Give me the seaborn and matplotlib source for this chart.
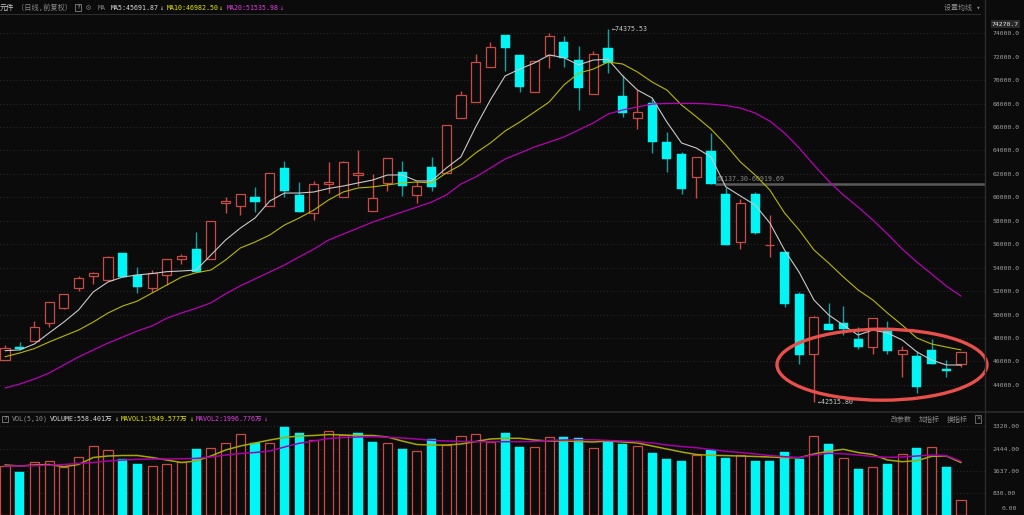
import numpy as np
import pandas as pd
import matplotlib
matplotlib.use("Agg")
import matplotlib.pyplot as plt
import seaborn as sns
from matplotlib.patches import Ellipse
from matplotlib.lines import Line2D

# ---- 日K数据 ----
open_ = [46130, 47260, 47770, 49250, 50590, 52290, 53320, 52920, 55230, 53380,
         52290, 53380, 54740, 55590, 54740, 59490, 59260, 60060, 59260, 62480,
         60200, 58690, 61170, 60060, 61880, 58840, 61250, 62190, 60180, 62620,
         62050, 66800, 68160, 71150, 73860, 72150, 68970, 72150, 73280, 71720,
         68800, 72770, 68650, 66750, 68030, 64700, 63700, 61710, 63960, 60260,
         56220, 60260, 55900, 55360, 51750, 46630, 49200, 49310, 47890, 47260,
         48600, 46610, 46460, 46980, 45360, 45760]
close = [47130, 47040, 48910, 51050, 51730, 53090, 53520, 54890, 53230, 52330,
         53520, 54740, 55030, 53660, 57980, 59710, 60260, 59630, 62050, 60540,
         58780, 61120, 61310, 62990, 62050, 59920, 63390, 60970, 61000, 60860,
         66200, 68740, 71530, 72860, 72770, 69440, 71640, 73800, 71920, 69360,
         72230, 71490, 67220, 67310, 64700, 63250, 60710, 63420, 61140, 55940,
         59490, 57000, 55940, 50930, 46550, 49820, 48680, 48740, 47260, 49730,
         46920, 46980, 43840, 45760, 45210, 46780]
high = [47400, 47640, 49450, 51050, 51730, 53290, 53630, 54970, 55230, 54040,
        53800, 54740, 55140, 57060, 57980, 60060, 60260, 60860, 62050, 63100,
        61340, 61400, 62990, 63100, 64040, 61990, 63390, 63100, 61400, 63420,
        66200, 69100, 72260, 73230, 73860, 72150, 71640, 74000, 73770, 72940,
        72490, 74375.53, 70440, 69160, 68450, 65550, 63900, 63420, 65470, 60860,
        59840, 60460, 58490, 55360, 51950, 49880, 50960, 50760, 48970, 49730,
        49460, 47340, 46920, 47890, 46120, 46780]
low = [46100, 46980, 47770, 48910, 50480, 52040, 52610, 52920, 53230, 51870,
       51950, 52520, 54320, 53660, 54740, 58640, 58500, 58730, 59260, 60010,
       58780, 58070, 60400, 60060, 61000, 58840, 60570, 60120, 59550, 60570,
       62050, 66800, 68160, 71150, 70780, 68970, 68970, 71060, 71150, 67460,
       68800, 70590, 66830, 65810, 63760, 62190, 60290, 59920, 61140, 55940,
       55570, 56850, 54940, 50620, 45780, 42515.80, 48680, 48250, 47040, 46630,
       46630, 44700, 43330, 45760, 44700, 45500]

# 均线
ma5 = [46920, 46980, 47490, 48430, 49360, 50390, 51930, 52780, 53200, 53380,
       53500, 53660, 53720, 53800, 55080, 56360, 57380, 58240, 59690, 60370,
       60370, 60460, 60760, 60970, 61230, 61480, 61910, 61910, 61400, 61400,
       62500, 63450, 66010, 68310, 70360, 70950, 71470, 72150, 71920, 71300,
       71720, 71780, 70360, 69160, 68480, 66430, 64640, 64210, 63450, 60910,
       60120, 59350, 57820, 55510, 53600, 51240, 49970, 49100, 48250, 48680,
       48430, 47830, 46810, 46120, 45700, 45690]
ma10 = [46400, 46720, 47100, 47660, 48170, 48680, 49360, 50130, 50730, 51150,
        51840, 52520, 53200, 53570, 53800, 54660, 55680, 56190, 56790, 57640,
        58240, 58920, 59780, 60460, 60800, 60890, 61060, 61230, 61310, 61230,
        62080, 62770, 63790, 64640, 65660, 66430, 67280, 68140, 69590, 70600,
        70950, 71550, 71380, 70700, 69840, 69160, 67880, 66880, 65830, 64500,
        63020, 61910, 60630, 58670, 57210, 55510, 54400, 53210, 52100, 51250,
        50130, 49100, 48000, 47490, 47230, 46980]
ma20 = [43730, 44070, 44500, 45010, 45700, 46380, 46980, 47570, 48080, 48600,
        49030, 49690, 50140, 50540, 51000, 51770, 52450, 53040, 53630, 54230,
        54910, 55590, 56360, 56870, 57380, 57890, 58320, 58750, 59170, 59600,
        60200, 61140, 61740, 62500, 63270, 63780, 64300, 64720, 65150, 65750,
        66350, 67110, 67460, 67710, 67960, 68020, 68020, 68020, 67960, 67840,
        67620, 67200, 66510, 65490, 64210, 62760, 61390, 60200, 59170, 58070,
        56870, 55590, 54480, 53460, 52430, 51580]

# 成交量（万）
volume = [1823, 1611, 1960, 2020, 1775, 2169, 2555, 2406, 2071, 1897,
          1811, 1886, 1983, 2455, 2480, 2667, 3025, 2690, 2667, 3285,
          3050, 2778, 3136, 2976, 3039, 2727, 2667, 2455, 2369, 2815,
          2592, 2927, 3002, 2704, 3039, 2542, 2518, 2902, 2890, 2853,
          2481, 2765, 2629, 2555, 2318, 2071, 2021, 2232, 2406, 2108,
          2232, 2021, 1997, 2332, 2071, 2951, 2629, 2132, 1700, 1775,
          1897, 2257, 2481, 2542, 1775, 558.401]
mavol1 = [1860, 1822, 1860, 1878, 1796, 1878, 2138, 2194, 2213, 2213,
          2138, 2045, 1952, 2008, 2194, 2417, 2566, 2678, 2789, 2883,
          2938, 2957, 2994, 2975, 2957, 2957, 2901, 2752, 2622, 2603,
          2603, 2640, 2733, 2826, 2852, 2852, 2789, 2752, 2752, 2733,
          2715, 2752, 2715, 2678, 2566, 2454, 2343, 2250, 2220, 2209,
          2194, 2176, 2157, 2131, 2131, 2269, 2373, 2443, 2324, 2250,
          2045, 1982, 2019, 2183, 2194, 1950]
mavol2 = [1822, 1822, 1834, 1852, 1878, 1915, 1952, 2008, 2045, 2071,
          2079, 2083, 2094, 2105, 2157, 2231, 2287, 2324, 2380, 2529,
          2667, 2752, 2845, 2883, 2901, 2912, 2890, 2864, 2826, 2778,
          2752, 2733, 2726, 2726, 2726, 2726, 2733, 2771, 2789, 2797,
          2797, 2771, 2752, 2726, 2678, 2603, 2548, 2503, 2436, 2369,
          2324, 2269, 2213, 2168, 2138, 2231, 2295, 2276, 2231, 2176,
          2146, 2157, 2194, 2231, 2205, 1997]

price_ticks = list(range(44000, 74001, 2000))
vol_ticks = [830, 1637, 2444, 3320]
level_price = 61100
level_label = "61137.30-60919.69"

df = pd.DataFrame({"open": open_, "close": close, "high": high, "low": low,
                   "vol": volume, "ma5": ma5, "ma10": ma10, "ma20": ma20,
                   "mavol1": mavol1, "mavol2": mavol2})
df["i"] = np.arange(len(df))

# ---- 样式 ----
BG = "#0b0b0b"
RED = "#c84b45"
CYAN = "#00f5f5"
CYAN_WICK = "#12a0a0"
GRID = "#3a3a3a"
W, H = 1024, 515

sns.set_theme(style="dark", rc={"figure.facecolor": BG, "axes.facecolor": BG})
plt.rcParams["font.family"] = ["DejaVu Sans Mono", "DejaVu Sans", "Noto Sans CJK SC"]


def fx(px):
    return px / W


def fy(py):
    return 1 - py / H


fig = plt.figure(figsize=(W / 100, H / 100), dpi=100)

# 像素 -> 数据 换算
bar_px = 14.708
x_lo, x_hi = -5 / bar_px, 980 / bar_px
p_per_px = 85.33
p_top = 74000 + (33.3 - 15) * p_per_px
p_bot = 74000 - (412 - 33.3) * p_per_px
v_per_px = 37.19

ax = fig.add_axes([0, fy(412), fx(985), (412 - 15) / H])
axv = fig.add_axes([0, 0, fx(985), (515 - 412) / H])

TICK_FS = 4.6
for a in (ax, axv):
    a.set_facecolor(BG)
    for s in a.spines.values():
        s.set_visible(False)
    a.set_xlim(x_lo, x_hi)
    a.set_xticks([])
    a.yaxis.tick_right()
    a.tick_params(axis="y", length=0, pad=5.5, labelsize=TICK_FS, labelcolor="#a0a0a0")
    a.grid(axis="y", color=GRID, linestyle=(0, (1, 3)), linewidth=0.6)
    a.grid(axis="x", visible=False)

# ---- K线 ----
up = df[df["close"] >= df["open"]]
dn = df[df["close"] < df["open"]]
bw = 0.62

ax.vlines(dn["i"], dn["low"], dn["high"], color=CYAN_WICK, lw=1.0, zorder=2)
ax.bar(dn["i"], dn["open"] - dn["close"], bottom=dn["close"], width=bw,
       color=CYAN, edgecolor=CYAN, lw=0.3, zorder=3)

ax.vlines(up["i"], up["close"], up["high"], color=RED, lw=1.0, zorder=2)
ax.vlines(up["i"], up["low"], up["open"], color=RED, lw=1.0, zorder=2)
ax.bar(up["i"], (up["close"] - up["open"]).clip(lower=20), bottom=up["open"], width=bw,
       facecolor=BG, edgecolor=RED, lw=0.9, zorder=3)

sns.lineplot(data=df, x="i", y="ma5", ax=ax, color="#c8c8c8", lw=0.8, zorder=4)
sns.lineplot(data=df, x="i", y="ma10", ax=ax, color="#b8b800", lw=0.8, zorder=4)
sns.lineplot(data=df, x="i", y="ma20", ax=ax, color="#b800b8", lw=0.9, zorder=4)

ax.set_ylim(p_bot, p_top)
ax.set_yticks(price_ticks)
ax.set_yticklabels([f"{t:.1f}" for t in price_ticks])
ax.set_xlabel("")
ax.set_ylabel("")

# 最高/最低标注
i_hi = int(np.argmax(df["high"]))
i_lo = int(np.argmin(df["low"]))
ax.text(i_hi + 0.25, df["high"][i_hi], f"←{df['high'][i_hi]:.2f}", color="#c8c8c8",
        fontsize=4.8, va="center", ha="left", zorder=6)
ax.text(i_lo + 0.25, df["low"][i_lo], f"←{df['low'][i_lo]:.2f}", color="#c8c8c8",
        fontsize=4.8, va="center", ha="left", zorder=6)

# 水平画线
ax.hlines(level_price, 48.3, x_hi, color="#5a5a5a", lw=1.8, zorder=1)
ax.text(48.4, level_price + 500, level_label, color="#8a8a8a", fontsize=4.8,
        va="center", ha="left", zorder=1)

# 红色圈
ell = Ellipse(((882 - 5) / bar_px, 74000 - (364.7 - 33.3) * p_per_px),
              210 / bar_px, 71 * p_per_px, fill=False, edgecolor="#e8504c",
              lw=2.4, zorder=7, clip_on=False)
ax.add_patch(ell)

# ---- 成交量 ----
prev = df["close"].shift(1)
vup = df[(df["close"] >= prev) | prev.isna()]
vdn = df[df["close"] < prev]
axv.bar(vdn["i"], vdn["vol"], width=bw, color=CYAN, edgecolor=CYAN, lw=0.3, zorder=3)
axv.bar(vup["i"], vup["vol"], width=bw, facecolor=BG, edgecolor=RED, lw=0.9, zorder=3)
sns.lineplot(data=df, x="i", y="mavol1", ax=axv, color="#a8a800", lw=1.1, zorder=4)
sns.lineplot(data=df, x="i", y="mavol2", ax=axv, color="#a800a8", lw=1.1, zorder=4)
axv.set_ylim(0, (515 - 412) * v_per_px)
axv.set_yticks(vol_ticks)
axv.set_yticklabels([f"{t:.2f}" for t in vol_ticks])
axv.set_xlabel("")
axv.set_ylabel("")

# ---- 框线 ----
fig.add_artist(Line2D([fx(985), fx(985)], [0, 1], color="#2c2c2c", lw=1.0))
fig.add_artist(Line2D([0, fx(980)], [fy(14.3), fy(14.3)], color="#2c2c2c", lw=0.8))
fig.add_artist(Line2D([0, fx(1024)], [fy(412.3), fy(412.3)], color="#2c2c2c", lw=1.2))

# ---- 顶部标题 ----
fs = 4.8
ty = fy(7.5)
fig.text(fx(0), ty, "元件", color="#c8c8c8", fontsize=5.2, va="center")
fig.text(fx(17), ty, "（日线,前复权）", color="#8a8a8a", fontsize=5.2, va="center")
fig.text(fx(76), ty, "?", color="#a0a0a0", fontsize=4.6, va="center",
         bbox=dict(boxstyle="square,pad=0.15", fc=BG, ec="#808080", lw=0.6))
fig.text(fx(86), ty, "⚙", color="#707070", fontsize=6, va="center")
fig.text(fx(98), ty, "MA", color="#808080", fontsize=fs, va="center")
fig.text(fx(111), ty, "MA5:45691.87", color="#d8d8d8", fontsize=fs, va="center")
fig.text(fx(159), ty, "↓", color="#d8d8d8", fontsize=fs, va="center")
fig.text(fx(167), ty, "MA10:46982.50", color="#e6e600", fontsize=fs, va="center")
fig.text(fx(218), ty, "↓", color="#e6e600", fontsize=fs, va="center")
fig.text(fx(227), ty, "MA20:51535.98", color="#e040e0", fontsize=fs, va="center")
fig.text(fx(279), ty, "↓", color="#e040e0", fontsize=fs, va="center")
fig.text(fx(944), ty, "设置均线 ▾", color="#8a8a8a", fontsize=5.0, va="center")
fig.text(fx(992), fy(24), "74270.7", color="#e8e8e8", fontsize=TICK_FS, va="center",
         bbox=dict(boxstyle="square,pad=0.2", fc="#2a2a2a", ec="none"))

# ---- 成交量标题 ----
vy = fy(419)
fig.text(fx(3), vy, "?", color="#a0a0a0", fontsize=4.6, va="center",
         bbox=dict(boxstyle="square,pad=0.15", fc=BG, ec="#808080", lw=0.6))
fig.text(fx(12), vy, "VOL(5,10)", color="#909090", fontsize=fs, va="center")
fig.text(fx(50), vy, "VOLUME:558.401万", color="#d8d8d8", fontsize=fs, va="center")
fig.text(fx(114), vy, "↓", color="#d8d8d8", fontsize=fs, va="center")
fig.text(fx(121), vy, "MAVOL1:1949.577万", color="#e6e600", fontsize=fs, va="center")
fig.text(fx(189), vy, "↓", color="#e6e600", fontsize=fs, va="center")
fig.text(fx(196), vy, "MAVOL2:1996.776万", color="#e040e0", fontsize=fs, va="center")
fig.text(fx(263), vy, "↓", color="#e040e0", fontsize=fs, va="center")
fig.text(fx(891), vy, "改参数", color="#8a8a8a", fontsize=5.0, va="center")
fig.text(fx(919), vy, "加指标", color="#8a8a8a", fontsize=5.0, va="center")
fig.text(fx(947), vy, "换指标", color="#8a8a8a", fontsize=5.0, va="center")
fig.text(fx(976), vy, "×", color="#8a8a8a", fontsize=5.0, va="center",
         bbox=dict(boxstyle="square,pad=0.1", fc=BG, ec="#707070", lw=0.6))
fig.text(fx(1017), fy(509), "0.00", color="#a0a0a0", fontsize=TICK_FS, va="center", ha="right")

fig.savefig("out.png", dpi=100, facecolor=BG)
